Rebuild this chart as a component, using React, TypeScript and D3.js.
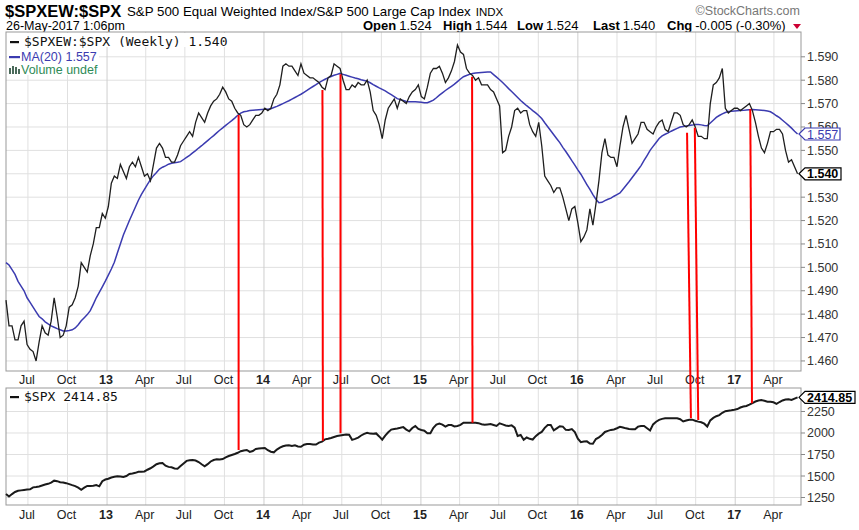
import React from 'react';
import * as d3 from 'd3';

const WIDTH = 859;
const HEIGHT = 530;
const SANS = '"Liberation Sans", Arial, sans-serif';
const MONO = '"DejaVu Sans Mono", monospace';

// weekly closes, first bar on 11-May-2012
const firstWeek = new Date(2012, 4, 11);

const ratioWeekly = [
  1.486, 1.475, 1.475, 1.469, 1.469, 1.475, 1.477, 1.467, 1.465, 1.464,
  1.460, 1.468, 1.475, 1.472, 1.471, 1.477, 1.487, 1.479, 1.470, 1.471,
  1.475, 1.483, 1.484, 1.487, 1.492, 1.502, 1.500, 1.498, 1.505, 1.510,
  1.517, 1.517, 1.523, 1.521, 1.526, 1.536, 1.539, 1.538, 1.544, 1.541,
  1.538, 1.543, 1.545, 1.543, 1.547, 1.543, 1.539, 1.540, 1.537, 1.544,
  1.551, 1.553, 1.551, 1.547, 1.547, 1.545, 1.545, 1.548, 1.552, 1.554,
  1.556, 1.558, 1.556, 1.562, 1.566, 1.564, 1.562, 1.566, 1.569, 1.571,
  1.572, 1.574, 1.577, 1.575, 1.572, 1.571, 1.568, 1.566, 1.565, 1.561,
  1.560, 1.561, 1.563, 1.565, 1.565, 1.566, 1.568, 1.567, 1.568, 1.572,
  1.574, 1.578, 1.586, 1.587, 1.586, 1.586, 1.584, 1.582, 1.587, 1.583,
  1.582, 1.581, 1.581, 1.580, 1.579, 1.577, 1.576, 1.581, 1.582, 1.587,
  1.586, 1.585, 1.580, 1.576, 1.576, 1.578, 1.577, 1.579, 1.578, 1.578,
  1.580, 1.575, 1.567, 1.565, 1.561, 1.555, 1.563, 1.568, 1.570, 1.572,
  1.568, 1.572, 1.571, 1.570, 1.573, 1.575, 1.576, 1.578, 1.573, 1.572,
  1.577, 1.583, 1.585, 1.585, 1.586, 1.583, 1.579, 1.581, 1.584, 1.588,
  1.595, 1.592, 1.591, 1.585, 1.583, 1.582, 1.580, 1.581, 1.578, 1.578,
  1.578, 1.576, 1.575, 1.572, 1.569, 1.549, 1.550, 1.556, 1.560, 1.567,
  1.568, 1.566, 1.567, 1.567, 1.561, 1.558, 1.556, 1.562, 1.552, 1.539,
  1.537, 1.535, 1.532, 1.534, 1.534, 1.530, 1.525, 1.520, 1.525, 1.526,
  1.519, 1.511, 1.513, 1.516, 1.525, 1.518, 1.527, 1.537, 1.549, 1.555,
  1.548, 1.547, 1.547, 1.543, 1.552, 1.560, 1.565, 1.559, 1.553, 1.555,
  1.557, 1.562, 1.562, 1.559, 1.558, 1.557, 1.560, 1.562, 1.563, 1.559,
  1.558, 1.562, 1.566, 1.566, 1.565, 1.561, 1.560, 1.561, 1.563, 1.560,
  1.556, 1.556, 1.555, 1.555, 1.570, 1.578, 1.579, 1.581, 1.585, 1.568,
  1.566, 1.567, 1.568, 1.568, 1.567, 1.568, 1.569, 1.570, 1.567, 1.562,
  1.556, 1.551, 1.549, 1.553, 1.558, 1.558, 1.559, 1.559, 1.557, 1.550,
  1.545, 1.546, 1.543, 1.540,
];

const ma20Weekly = [
  1.502, 1.501, 1.499, 1.497, 1.494, 1.492, 1.490, 1.487, 1.485, 1.483,
  1.481, 1.479, 1.478, 1.4767, 1.4758, 1.4750, 1.4744, 1.4738, 1.4733, 1.4728,
  1.4728, 1.4730, 1.4733, 1.4741, 1.4755, 1.4772, 1.4785, 1.4798, 1.4815, 1.4842,
  1.4870, 1.4893, 1.4917, 1.4941, 1.4967, 1.4993, 1.5022, 1.5061, 1.5100, 1.5138,
  1.5169, 1.5200, 1.5229, 1.5258, 1.5287, 1.5312, 1.5333, 1.5355, 1.5375, 1.5392,
  1.5405, 1.5420, 1.5428, 1.5434, 1.5441, 1.5445, 1.5447, 1.5449, 1.5452, 1.5461,
  1.5470, 1.5479, 1.5489, 1.5499, 1.5510, 1.5520, 1.5531, 1.5542, 1.5553, 1.5563,
  1.5575, 1.5586, 1.5596, 1.5607, 1.5617, 1.5627, 1.5638, 1.5650, 1.5659, 1.5665,
  1.5667, 1.5670, 1.5672, 1.5673, 1.5674, 1.5675, 1.5676, 1.5676, 1.5678, 1.5683,
  1.5688, 1.5694, 1.5700, 1.5706, 1.5712, 1.5719, 1.5726, 1.5733, 1.5740, 1.5748,
  1.5756, 1.5765, 1.5773, 1.5781, 1.5790, 1.5797, 1.5804, 1.5810, 1.5816, 1.5821,
  1.5825, 1.5829, 1.5825, 1.5821, 1.5817, 1.5813, 1.5809, 1.5806, 1.5802, 1.5799,
  1.5796, 1.5789, 1.5781, 1.5774, 1.5767, 1.5761, 1.5754, 1.5746, 1.5738, 1.5730,
  1.5721, 1.5717, 1.5713, 1.5709, 1.5708, 1.5708, 1.5708, 1.5707, 1.5706, 1.5704,
  1.5704, 1.5709, 1.5715, 1.5725, 1.5736, 1.5746, 1.5756, 1.5765, 1.5774, 1.5783,
  1.5794, 1.5805, 1.5815, 1.5820, 1.5825, 1.5829, 1.5831, 1.5832, 1.5833, 1.5834,
  1.5835, 1.5835, 1.5824, 1.5813, 1.5802, 1.5790, 1.5777, 1.5764, 1.5752, 1.5739,
  1.5726, 1.5713, 1.5702, 1.5691, 1.5681, 1.5670, 1.5660, 1.5649, 1.5636, 1.5618,
  1.5601, 1.5584, 1.5567, 1.5550, 1.5533, 1.5513, 1.5495, 1.5476, 1.5456, 1.5437,
  1.5417, 1.5398, 1.5376, 1.5354, 1.5333, 1.5311, 1.5291, 1.5276, 1.5278, 1.5285,
  1.5291, 1.5296, 1.5304, 1.5311, 1.5318, 1.5334, 1.5350, 1.5366, 1.5383, 1.5400,
  1.5417, 1.5435, 1.5457, 1.5478, 1.5500, 1.5517, 1.5534, 1.5551, 1.5562, 1.5569,
  1.5575, 1.5582, 1.5588, 1.5594, 1.5600, 1.5602, 1.5604, 1.5606, 1.5608, 1.5611,
  1.5611, 1.5609, 1.5606, 1.5605, 1.5617, 1.5629, 1.5641, 1.5649, 1.5656, 1.5662,
  1.5666, 1.5667, 1.5668, 1.5669, 1.5670, 1.5671, 1.5673, 1.5674, 1.5675, 1.5674,
  1.5673, 1.5672, 1.5670, 1.5668, 1.5665, 1.5657, 1.5648, 1.5640, 1.5629, 1.5618,
  1.5607, 1.5595, 1.5582, 1.5570,
];

const spxWeekly = [
  1291, 1262, 1290, 1314, 1328, 1333, 1338, 1342, 1345, 1368,
  1373, 1379, 1390, 1401, 1409, 1423, 1446, 1440, 1427, 1424,
  1417, 1406, 1394, 1383, 1365, 1340, 1364, 1384, 1384, 1387,
  1394, 1380, 1440, 1459, 1468, 1483, 1491, 1498, 1495, 1489,
  1500, 1524, 1529, 1537, 1550, 1550, 1553, 1573, 1590, 1612,
  1637, 1648, 1650, 1620, 1606, 1601, 1588, 1585, 1616, 1646,
  1676, 1682, 1685, 1680, 1662, 1636, 1612, 1638, 1669, 1686,
  1694, 1692, 1697, 1717, 1732, 1744, 1756, 1770, 1788, 1797,
  1802, 1780, 1791, 1815, 1820, 1823, 1826, 1800, 1782, 1775,
  1807, 1830, 1846, 1854, 1858, 1850, 1857, 1844, 1840, 1863,
  1872, 1872, 1866, 1866, 1888, 1900, 1926, 1933, 1942, 1954,
  1965, 1971, 1977, 1983, 1980, 1920, 1931, 1947, 1971, 1990,
  2003, 1993, 1990, 1995, 1960, 1922, 1970, 2008, 2040, 2047,
  2053, 2060, 2068, 2040, 2020, 2058, 2080, 2048, 2035, 2027,
  1996, 1998, 2060, 2097, 2110, 2097, 2074, 2092, 2093, 2077,
  2082, 2094, 2120, 2120, 2120, 2120, 2120, 2114, 2101, 2095,
  2100, 2104, 2093, 2082, 2112, 2100, 2088, 2081, 2089, 2062,
  1965, 1976, 1920, 1948, 1932, 1924, 1963, 1992, 2013, 2060,
  2093, 2093, 2030, 2054, 2079, 2074, 2036, 2034, 2046, 2010,
  1935, 1893, 1902, 1903, 1878, 1875, 1930, 1949, 1976, 2012,
  2025, 2036, 2041, 2055, 2071, 2064, 2054, 2046, 2043, 2043,
  2074, 2081, 2081, 2055, 2029, 2100, 2131, 2153, 2164, 2170,
  2170, 2170, 2170, 2170, 2160, 2134, 2146, 2155, 2155, 2143,
  2132, 2125, 2108, 2075, 2147, 2175, 2195, 2208, 2235, 2253,
  2259, 2264, 2270, 2278, 2296, 2308, 2314, 2329, 2347, 2366,
  2378, 2383, 2374, 2364, 2364, 2357, 2338, 2360, 2378, 2390,
  2392, 2384, 2400, 2414.85,
];

const ratioTicks = [1.46, 1.47, 1.48, 1.49, 1.5, 1.51, 1.52, 1.53, 1.54, 1.55, 1.56, 1.57, 1.58, 1.59];
const spxTicks = [1250, 1500, 1750, 2000, 2250];

// quote line in the header
const quoteLabels = ['Open', 'High', 'Low', 'Last', 'Chg'];
const quoteValues = ['1.524', '1.544', '1.524', '1.540', '-0.005 (-0.30%)'];

// hand drawn red markers: from the ratio panel down to $SPX
const signalTopDates = ['2013-11-03', '2014-05-17', '2014-06-28', '2015-04-30', '2016-09-11', '2016-09-29', '2017-02-05'];
const signalTopValues = [1.5651, 1.5758, 1.5825, 1.5815, 1.5575, 1.5597, 1.5677];
const signalBottomDates = ['2013-11-03', '2014-05-18', '2014-06-28', '2015-05-01', '2016-09-20', '2016-10-07', '2017-02-09'];
const signalBottomValues = [1802, 1910, 1996, 2120, 2171, 2151, 2345];

const parseDay = d3.timeParse('%Y-%m-%d');

const App: React.FC = () => {
  const left = 6;
  const right = 801;
  const topY0 = 32;
  const topY1 = 371;
  const botY0 = 388;
  const botY1 = 505;

  const x = d3.scaleTime()
    .domain([new Date(2012, 4, 11), new Date(2017, 5, 3)])
    .range([left, right]);
  const yRatio = d3.scaleLinear().domain([1.4557, 1.6006]).range([topY1, topY0]);
  const ySpx = d3.scaleLinear().domain([1163, 2523]).range([botY1, botY0]);

  const weekDate = (i: number) => d3.timeDay.offset(firstWeek, i * 7);

  const ratioLine = d3.line<number>().x((_, i) => x(weekDate(i))).y(d => yRatio(d));
  const spxLine = d3.line<number>().x((_, i) => x(weekDate(i))).y(d => ySpx(d));

  const quarters = x.ticks(d3.timeMonth.every(3) as any);
  const fmtMonth = d3.timeFormat('%b');
  const fmtYear = d3.timeFormat('%y');

  const lastRatio = ratioWeekly[ratioWeekly.length - 1];
  const lastMa = ma20Weekly[ma20Weekly.length - 1];
  const lastSpx = spxWeekly[spxWeekly.length - 1];

  // quote groups laid out left to right, spaced like the original
  const quoteX = [363, 443, 517, 593, 667];

  const xLabels = (yBase: number) => quarters.map((d, i) => {
    const isYear = d.getMonth() === 0;
    return (
      <text key={i} x={x(d) - 1} y={yBase} textAnchor="middle" fontFamily={SANS}
        fontSize={12.5} fontWeight={isYear ? 'bold' : 'normal'} fill="#222">
        {isYear ? fmtYear(d) : fmtMonth(d)}
      </text>
    );
  });

  const tag = (yv: number, label: string, color: string, bold: boolean, w: number) => (
    <g>
      <path d={`M${right - 2},${yv} L${right + 4},${yv - 6} L${right + 4 + w},${yv - 6} L${right + 4 + w},${yv + 6} L${right + 4},${yv + 6} Z`}
        fill="white" stroke={color} strokeWidth={1.2} />
      <text x={right + 6} y={yv + 4.5} fontFamily={SANS} fontSize={12.5}
        fontWeight={bold ? 'bold' : 'normal'} fill={color}>{label}</text>
    </g>
  );

  return (
    <svg width={WIDTH} height={HEIGHT} style={{ position: 'absolute', left: 0, top: 0, background: 'white' }}>
      <rect x={0} y={0} width={WIDTH} height={HEIGHT} fill="white" />

      {/* header */}
      <text x={5} y={17} fontFamily={SANS} fontSize={16.5} fontWeight="bold" fill="#000">$SPXEW:$SPX</text>
      <text x={127} y={16} fontFamily={SANS} fontSize={13.3} fill="#000">
        S&amp;P 500 Equal Weighted Index/S&amp;P 500 Large Cap Index
        <tspan dx={5} fontSize={11.5}>INDX</tspan>
      </text>
      <text x={800} y={15} textAnchor="end" fontFamily={SANS} fontSize={12.5} fill="#777">©StockCharts.com</text>
      <text x={6} y={30} fontFamily={SANS} fontSize={12.5} fill="#000">26-May-2017 1:06pm</text>
      {quoteLabels.map((lab, i) => (
        <text key={lab} x={quoteX[i]} y={30} fontFamily={SANS} fontSize={13} fill="#000">
          <tspan fontWeight="bold">{lab}</tspan>
          <tspan dx={3}>{quoteValues[i]}</tspan>
        </text>
      ))}
      <path d="M793,24 L801,24 L797,29 Z" fill="#cc0033" />

      {/* top panel */}
      <rect x={left} y={topY0} width={right - left} height={topY1 - topY0} fill="white" />
      {ratioTicks.map(t => (
        <line key={t} x1={left} x2={right} y1={yRatio(t)} y2={yRatio(t)} stroke="#e0e0e0" />
      ))}
      {quarters.map((d, i) => (
        <line key={i} x1={x(d)} x2={x(d)} y1={topY0} y2={topY1}
          stroke={d.getMonth() === 0 ? '#cfcfcf' : '#e0e0e0'} />
      ))}
      <rect x={left} y={topY0} width={right - left} height={topY1 - topY0} fill="none" stroke="#999" />
      {ratioTicks.map(t => (
        <g key={t}>
          <line x1={right} x2={right + 4} y1={yRatio(t)} y2={yRatio(t)} stroke="#888" />
          <text x={right + 6} y={yRatio(t) + 4.5} fontFamily={SANS} fontSize={12.5} fill="#333">{t.toFixed(3)}</text>
        </g>
      ))}
      <path d={ratioLine(ma20Weekly) || ''} fill="none" stroke="#3b3bb0" strokeWidth={1.5} />
      <path d={ratioLine(ratioWeekly) || ''} fill="none" stroke="#1e1e1e" strokeWidth={1.3} />

      {/* legend top */}
      <rect x={left + 1} y={topY0 + 1} width={228} height={14} fill="white" />
      <rect x={left + 1} y={topY0 + 15} width={92} height={14} fill="white" />
      <rect x={left + 1} y={topY0 + 29} width={96} height={14} fill="white" />
      <rect x={10} y={41} width={9} height={2.2} fill="#111" />
      <text x={24} y={46} fontFamily={MONO} fontSize={13} fill="#111">
        $SPXEW:$SPX (Weekly) {lastRatio.toFixed(3)}
      </text>
      <rect x={9} y={56} width={11} height={2.2} fill="#3b3bb0" />
      <text x={21} y={61} fontFamily={SANS} fontSize={12.5} fill="#3b3bb0">MA(20) {lastMa.toFixed(3)}</text>
      <rect x={9} y={68} width={2} height={6} fill="#4a6a5a" />
      <rect x={12} y={66} width={2} height={8} fill="#4a6a5a" />
      <rect x={15} y={67} width={2} height={7} fill="#4a6a5a" />
      <rect x={18} y={69} width={2} height={5} fill="#4a6a5a" />
      <text x={21} y={74} fontFamily={SANS} fontSize={12.5} fill="#2e8b57">Volume undef</text>

      {/* x labels between panels */}
      {xLabels(384)}

      {/* bottom panel */}
      <rect x={left} y={botY0} width={right - left} height={botY1 - botY0} fill="white" />
      {spxTicks.map(t => (
        <line key={t} x1={left} x2={right} y1={ySpx(t)} y2={ySpx(t)} stroke="#e0e0e0" />
      ))}
      {quarters.map((d, i) => (
        <line key={i} x1={x(d)} x2={x(d)} y1={botY0} y2={botY1}
          stroke={d.getMonth() === 0 ? '#cfcfcf' : '#e0e0e0'} />
      ))}
      <rect x={left} y={botY0} width={right - left} height={botY1 - botY0} fill="none" stroke="#999" />
      {spxTicks.map(t => (
        <g key={t}>
          <line x1={right} x2={right + 4} y1={ySpx(t)} y2={ySpx(t)} stroke="#888" />
          <text x={right + 6} y={ySpx(t) + 4.5} fontFamily={SANS} fontSize={12.5} fill="#333">{t}</text>
        </g>
      ))}
      <path d={spxLine(spxWeekly) || ''} fill="none" stroke="#1a1a1a" strokeWidth={2} />
      <rect x={left + 1} y={botY0 + 1} width={116} height={14} fill="white" />
      <rect x={10} y={396} width={9} height={2.2} fill="#111" />
      <text x={24} y={401} fontFamily={MONO} fontSize={13} fill="#111">$SPX {lastSpx.toFixed(2)}</text>

      {xLabels(519)}

      {/* red markers */}
      {signalTopDates.map((d, i) => (
        <line key={i}
          x1={x(parseDay(d) as Date)} y1={yRatio(signalTopValues[i])}
          x2={x(parseDay(signalBottomDates[i]) as Date)} y2={ySpx(signalBottomValues[i])}
          stroke="#ff0000" strokeWidth={2} />
      ))}

      {/* last value tags */}
      {tag(yRatio(lastMa), lastMa.toFixed(3), '#3b3bb0', false, 35)}
      {tag(yRatio(lastRatio), lastRatio.toFixed(3), '#000', true, 36)}
      {tag(ySpx(lastSpx), lastSpx.toFixed(2), '#000', true, 50)}
    </svg>
  );
};

export default App;
